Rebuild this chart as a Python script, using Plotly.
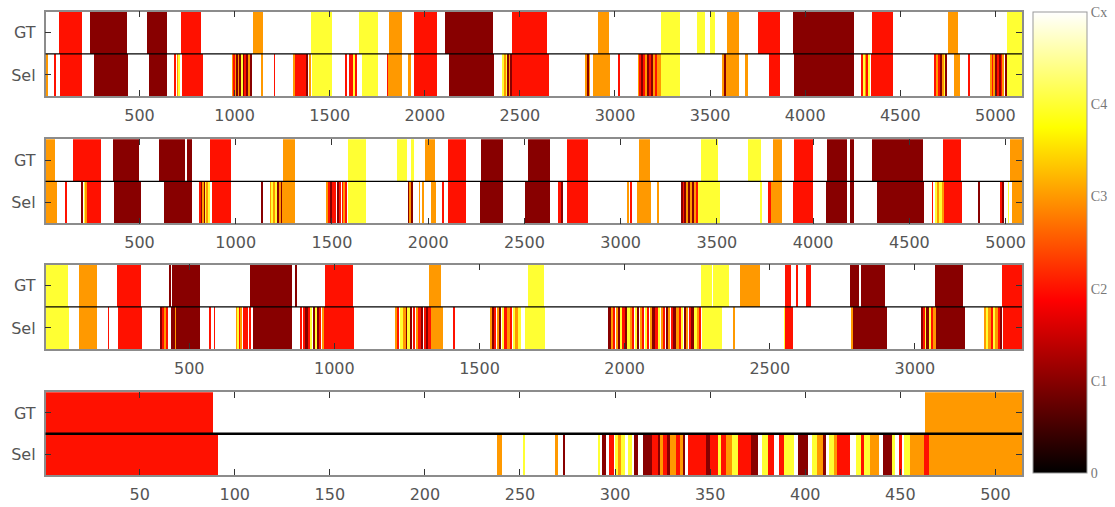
import plotly.graph_objects as go

# Class scale: 0 .. C1 .. C4 .. Cx (Cx = background, drawn as white)
class_ticks = [0, 1, 2, 3, 4, 5]
class_labels = ["0", "C1", "C2", "C3", "C4", "Cx"]

# ---- sequence 1 -------------------------------------------------------
seq1_range = [6, 5140]
seq1_ticks = [500, 1000, 1500, 2000, 2500, 3000, 3500, 4000, 4500, 5000]
seq1_gt = [
    (72, 197, 2), (238, 430, 1), (535, 643, 1), (718, 823, 2), (1093, 1146, 3),
    (1399, 1512, 4), (1652, 1753, 4), (1809, 1879, 3), (1940, 2063, 2),
    (2103, 2354, 1), (2455, 2642, 2), (2906, 2966, 3), (3238, 3337, 4),
    (3427, 3472, 4), (3495, 3524, 4), (3587, 3647, 3), (3748, 3865, 2),
    (3936, 4254, 1), (4350, 4460, 2), (4747, 4801, 3), (5057, 5140, 4),
]
seq1_sel = [
    (7, 19, 3), (49, 55, 2), (78, 197, 2), (259, 439, 1), (547, 643, 1),
    (683, 686, 2), (697, 703, 3), (703, 709, 4), (722, 832, 2),
    (985, 993, 3), (993, 1000, 2), (1000, 1006, 3), (1008, 1014, 1),
    (1016, 1024, 3), (1024, 1034, 1), (1036, 1042, 4), (1042, 1050, 1),
    (1052, 1060, 2), (1062, 1070, 1), (1072, 1080, 3), (1082, 1090, 1),
    (1139, 1146, 3), (1206, 1209, 2),
    (1307, 1313, 3), (1318, 1322, 2), (1328, 1333, 2), (1338, 1342, 2),
    (1347, 1355, 2), (1355, 1372, 2), (1372, 1385, 1), (1388, 1399, 3),
    (1403, 1512, 4),
    (1583, 1591, 2), (1600, 1606, 2), (1612, 1618, 2), (1622, 1628, 4), (1635, 1640, 2),
    (1670, 1753, 4), (1800, 1806, 2), (1806, 1879, 3), (1914, 1923, 3),
    (1940, 2063, 2), (2124, 2363, 1),
    (2408, 2414, 4), (2416, 2422, 3), (2425, 2430, 4), (2434, 2440, 1),
    (2442, 2448, 3), (2450, 2455, 1), (2455, 2648, 2),
    (2843, 2850, 3), (2852, 2860, 1), (2862, 2866, 3), (2883, 2971, 3), (3016, 3021, 2),
    (3119, 3124, 3), (3128, 3134, 2), (3136, 3144, 1), (3148, 3154, 2),
    (3160, 3166, 3), (3170, 3178, 1), (3180, 3188, 2), (3188, 3196, 1),
    (3200, 3206, 3), (3210, 3216, 2), (3222, 3228, 3), (3232, 3238, 3),
    (3241, 3337, 4),
    (3564, 3574, 3), (3574, 3582, 1), (3582, 3647, 3), (3686, 3695, 3),
    (3805, 3865, 2), (3940, 4254, 1),
    (4294, 4300, 2), (4305, 4312, 4), (4312, 4318, 3), (4320, 4327, 2), (4330, 4338, 4),
    (4345, 4460, 2),
    (4679, 4686, 2), (4690, 4696, 3), (4700, 4706, 2), (4708, 4714, 1),
    (4718, 4724, 3), (4728, 4734, 4), (4736, 4743, 1),
    (4781, 4812, 3), (4855, 4859, 2),
    (4970, 4976, 3), (4980, 4986, 2), (4990, 4996, 3), (5000, 5008, 1),
    (5010, 5016, 2), (5018, 5026, 1), (5028, 5034, 2), (5036, 5044, 3),
    (5046, 5057, 1), (5057, 5140, 4),
]

# ---- sequence 2 -------------------------------------------------------
seq2_range = [12, 5085]
seq2_ticks = [500, 1000, 1500, 2000, 2500, 3000, 3500, 4000, 4500, 5000]
seq2_gt = [
    (12, 60, 3), (152, 298, 2), (362, 495, 1), (598, 733, 1), (742, 768, 1),
    (862, 971, 2), (1245, 1306, 3), (1582, 1677, 4), (1837, 1889, 4),
    (1910, 1924, 4), (1981, 2031, 3), (2100, 2194, 2), (2274, 2384, 1),
    (2514, 2631, 1), (2717, 2830, 2), (3094, 3152, 3), (3416, 3503, 4),
    (3661, 3727, 4), (3791, 3834, 3), (3900, 3998, 2), (4068, 4175, 1),
    (4189, 4210, 1), (4305, 4567, 1), (4672, 4765, 2), (5021, 5085, 3),
]
seq2_sel = [
    (12, 69, 3), (115, 119, 2), (196, 200, 1), (210, 218, 4), (218, 227, 3),
    (227, 298, 2), (365, 504, 1), (624, 768, 1),
    (811, 816, 2), (818, 824, 1), (826, 832, 3), (834, 838, 1), (840, 846, 4),
    (848, 854, 3), (856, 862, 4), (874, 971, 2), (1131, 1135, 1),
    (1177, 1182, 3), (1186, 1190, 4), (1194, 1200, 3), (1204, 1210, 4),
    (1214, 1220, 1), (1224, 1230, 3), (1234, 1240, 1), (1242, 1248, 3),
    (1251, 1308, 3),
    (1470, 1476, 3), (1480, 1486, 2), (1490, 1496, 1), (1500, 1506, 2),
    (1510, 1520, 2), (1525, 1530, 1), (1535, 1545, 2), (1550, 1556, 2),
    (1560, 1566, 3), (1570, 1576, 2),
    (1582, 1677, 4), (1894, 1900, 1), (1900, 1908, 3), (1910, 1915, 1),
    (1950, 1955, 3), (1968, 1974, 3), (2010, 2039, 3), (2072, 2076, 2),
    (2100, 2194, 2), (2269, 2386, 1), (2502, 2631, 1), (2671, 2690, 2),
    (2690, 2700, 1), (2717, 2830, 2), (3033, 3038, 3), (3048, 3054, 2),
    (3080, 3154, 3), (3190, 3194, 3),
    (3313, 3322, 1), (3322, 3330, 2), (3330, 3340, 1), (3340, 3348, 3),
    (3350, 3358, 1), (3360, 3368, 3), (3370, 3380, 1), (3382, 3390, 3),
    (3392, 3399, 2), (3399, 3511, 4), (3725, 3729, 4), (3766, 3776, 2),
    (3776, 3834, 3), (3894, 3998, 2), (4063, 4175, 1), (4189, 4210, 1),
    (4331, 4572, 1),
    (4615, 4620, 2), (4630, 4645, 4), (4645, 4652, 3), (4652, 4668, 4),
    (4668, 4676, 3), (4676, 4771, 2), (4858, 4862, 1), (4969, 4978, 2),
    (4978, 4990, 1), (5010, 5014, 4), (5030, 5085, 3),
]

# ---- sequence 3 -------------------------------------------------------
seq3_range = [5, 3369]
seq3_ticks = [500, 1000, 1500, 2000, 2500, 3000]
seq3_gt = [
    (6, 82, 4), (118, 180, 3), (248, 331, 2), (429, 436, 1), (439, 537, 1),
    (708, 853, 1), (864, 868, 1), (967, 1063, 2), (1326, 1367, 3),
    (1664, 1719, 4), (2262, 2300, 4), (2302, 2359, 4), (2396, 2465, 3),
    (2552, 2571, 2), (2591, 2597, 2), (2622, 2640, 2), (2775, 2806, 1),
    (2811, 2897, 1), (3069, 3163, 1), (3298, 3369, 2),
]
seq3_sel = [
    (6, 84, 4), (120, 182, 3), (219, 221, 2), (254, 336, 2),
    (400, 405, 1), (408, 412, 2), (414, 418, 3), (420, 425, 2),
    (434, 450, 1), (450, 454, 3), (454, 534, 1), (568, 570, 2), (585, 587, 2),
    (660, 665, 3), (665, 670, 4), (670, 676, 2), (676, 681, 3), (683, 690, 2),
    (692, 700, 2), (703, 712, 2), (717, 853, 1),
    (883, 888, 2), (892, 897, 2), (900, 906, 1), (910, 914, 2), (917, 922, 4),
    (925, 930, 1), (933, 938, 4), (941, 946, 1), (948, 953, 2), (956, 960, 3),
    (963, 1066, 2),
    (1209, 1216, 3), (1216, 1222, 2), (1224, 1235, 4), (1238, 1244, 3),
    (1246, 1250, 1), (1252, 1258, 4), (1260, 1266, 1), (1270, 1275, 2),
    (1280, 1287, 3), (1288, 1296, 2), (1298, 1304, 1), (1306, 1314, 2),
    (1316, 1322, 1), (1324, 1330, 2), (1330, 1373, 3), (1409, 1411, 2),
    (1536, 1542, 3), (1542, 1548, 1), (1550, 1556, 2), (1560, 1566, 3),
    (1568, 1574, 1), (1578, 1584, 4), (1586, 1592, 2), (1596, 1602, 3),
    (1604, 1610, 2), (1614, 1620, 4), (1624, 1630, 3), (1634, 1640, 4),
    (1656, 1725, 4),
    (1942, 1950, 1), (1950, 1958, 3), (1958, 1965, 2), (1968, 1975, 3),
    (1975, 1982, 1), (1984, 1990, 4), (1990, 1998, 2), (2000, 2006, 1),
    (2008, 2016, 4), (2016, 2024, 3), (2026, 2032, 2), (2034, 2042, 4),
    (2042, 2048, 1), (2050, 2058, 3), (2060, 2066, 2), (2068, 2076, 4),
    (2078, 2084, 2), (2086, 2094, 3), (2096, 2102, 1), (2104, 2112, 2),
    (2114, 2120, 4), (2122, 2130, 3), (2132, 2138, 2), (2140, 2148, 1),
    (2150, 2156, 3), (2158, 2166, 2), (2168, 2174, 1), (2176, 2184, 3),
    (2186, 2192, 2), (2194, 2200, 4), (2202, 2210, 1), (2212, 2218, 3),
    (2220, 2228, 2), (2230, 2236, 1), (2238, 2246, 4), (2248, 2254, 3),
    (2256, 2262, 2),
    (2264, 2333, 4), (2372, 2376, 3), (2548, 2552, 4), (2552, 2579, 2),
    (2781, 2785, 3), (2785, 2903, 1),
    (3020, 3025, 1), (3028, 3032, 2), (3034, 3040, 4), (3040, 3046, 1),
    (3048, 3054, 4), (3056, 3062, 2), (3064, 3070, 3), (3070, 3172, 1),
    (3237, 3243, 3), (3245, 3251, 4), (3253, 3259, 3), (3261, 3267, 2),
    (3269, 3275, 4), (3277, 3283, 3), (3285, 3291, 2), (3293, 3299, 1),
    (3301, 3369, 2),
]

# ---- sequence 4 -------------------------------------------------------
seq4_range = [0.5, 514]
seq4_ticks = [50, 100, 150, 200, 250, 300, 350, 400, 450, 500]
seq4_gt = [(0.5, 88.5, 2), (462.5, 514, 3)]
seq4_sel = [
    (0.5, 91, 2), (237.5, 240.5, 3), (251.5, 252.5, 4), (268.5, 269.5, 3),
    (272.5, 273.5, 1), (291, 292, 4), (293, 295, 1), (296.5, 299, 2),
    (299.5, 301.5, 4), (301.5, 303, 3), (303, 305, 4), (306.5, 308.5, 4),
    (309.5, 312, 1), (314.5, 319, 1), (319, 322.5, 2), (322.5, 323.5, 1),
    (323.5, 325, 3), (325, 327, 2), (327, 328.5, 1), (328.5, 332, 3),
    (332, 334, 2), (334, 335.5, 3), (335.5, 336.5, 1), (338, 347.5, 2),
    (347.5, 349.5, 1), (349.5, 354, 2), (354, 355.5, 4), (355.5, 358, 2),
    (358, 361, 3), (361, 364.5, 4), (364.5, 371, 2), (371, 375, 1),
    (377, 380, 4), (380, 383.5, 2), (386, 388.5, 2), (388.5, 394, 4),
    (396, 401, 1), (403.5, 406, 4), (406, 409, 3), (409, 410.5, 1),
    (412.5, 415, 4), (415, 416.5, 3), (416.5, 423.5, 2), (426.5, 429, 4),
    (429, 430.5, 2), (430.5, 434, 4), (434, 438.5, 3), (440.5, 445.5, 1),
    (445.5, 447, 4), (449, 450.5, 2), (451.5, 455, 4), (455, 462, 3),
    (462, 465, 2), (465, 514, 3),
]

sequences = [
    (seq1_range, seq1_ticks, seq1_gt, seq1_sel),
    (seq2_range, seq2_ticks, seq2_gt, seq2_sel),
    (seq3_range, seq3_ticks, seq3_gt, seq3_sel),
    (seq4_range, seq4_ticks, seq4_gt, seq4_sel),
]

# MATLAB-style "hot" map over [0, Cx]
hot = [[0.0, "rgb(0,0,0)"], [0.375, "rgb(255,0,0)"],
       [0.75, "rgb(255,255,0)"], [1.0, "rgb(255,255,255)"]]

W, H = 1115, 507
left_px, right_px = 45.7, 1025.7
rows_px = [(11.7, 96.0), (139.3, 223.3), (264.7, 349.0), (392.3, 475.0)]
sep_width = [1.3, 1.3, 1.3, 2.5]

axis_font = dict(family="DejaVu Sans", size=16, color="#555555")
frame_col = "#8c8c8c"

fig = go.Figure()
layout = dict(
    width=W, height=H, margin=dict(l=0, r=0, t=0, b=0),
    paper_bgcolor="white", plot_bgcolor="white",
    barmode="overlay", bargap=0, showlegend=False, shapes=[],
)

for i, (xr, xt, gt, sel) in enumerate(sequences):
    n = i + 1
    sfx = "" if n == 1 else str(n)
    segs = [(s, e, c, 1) for s, e, c in gt] + [(s, e, c, 0) for s, e, c in sel]
    trace = go.Bar(
        orientation="h",
        y=[r for _, _, _, r in segs],
        base=[s for s, _, _, _ in segs],
        x=[e - s for s, e, _, _ in segs],
        width=1.0,
        marker=dict(
            color=[c for _, _, c, _ in segs],
            colorscale=hot, cmin=0, cmax=5,
            line=dict(width=0),
            showscale=(n == 1),
        ),
        hoverinfo="skip",
        xaxis="x" + sfx, yaxis="y" + sfx,
    )
    if n == 1:
        trace.marker.colorbar = dict(
            x=1037 / W, xanchor="left", xpad=0,
            y=1 - 12 / H, yanchor="top", ypad=0,
            len=(473 - 12) / H, lenmode="fraction",
            thickness=54, thicknessmode="pixels",
            outlinewidth=1, outlinecolor="#999999",
            tickvals=class_ticks, ticktext=class_labels, ticks="",
            tickfont=dict(family="Liberation Serif", size=14, color="#777777"),
        )
    fig.add_trace(trace)

    top, bot = rows_px[i]
    layout["xaxis" + sfx] = dict(
        domain=[left_px / W, right_px / W], range=xr,
        anchor="y" + sfx, tickvals=xt, ticks="inside", ticklen=6,
        tickcolor="#333333", showline=True, linecolor=frame_col, linewidth=1.5,
        mirror="ticks", showgrid=False, zeroline=False, tickfont=axis_font,
        ticklabelstandoff=4, fixedrange=True,
    )
    layout["yaxis" + sfx] = dict(
        domain=[1 - bot / H, 1 - top / H], range=[-0.5, 1.5],
        anchor="x" + sfx, tickvals=[0, 1], ticktext=["Sel", "GT"],
        ticks="inside", ticklen=6, tickcolor="#333333",
        showline=True, linecolor=frame_col, linewidth=1.5, mirror="ticks",
        showgrid=False, zeroline=False, tickfont=axis_font,
        ticklabelstandoff=5, fixedrange=True,
    )
    # separator between the GT and Sel rows
    layout["shapes"].append(dict(
        type="line", xref="x" + sfx + " domain", x0=0, x1=1,
        yref="y" + sfx, y0=0.5, y1=0.5,
        line=dict(color="black", width=sep_width[i]),
    ))

fig.update_layout(**layout)
fig.write_html("out.html")
